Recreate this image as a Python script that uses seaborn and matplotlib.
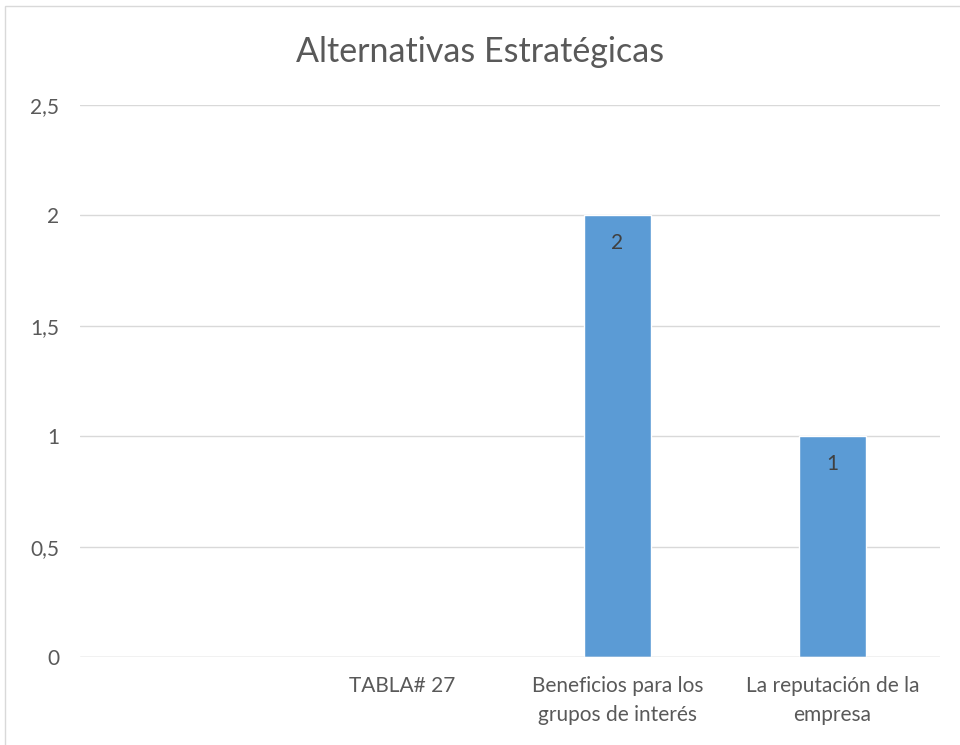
import pandas as pd
import seaborn as sns
import matplotlib.pyplot as plt
from matplotlib.patches import Rectangle

# datos del gráfico
categorias = ["", "TABLA# 27", "Beneficios para los\ngrupos de interés", "La reputación de la\nempresa"]
valores = [0, 0, 2, 1]
titulo = "Alternativas Estratégicas"

df = pd.DataFrame({"categoria": categorias, "valor": valores})

sns.set_style("white")
plt.rcParams["font.family"] = ["Lato", "DejaVu Sans"]

fig = plt.figure(figsize=(9.6, 7.45), dpi=100)
ax = fig.add_axes([80 / 960, 1 - 657 / 745, 860 / 960, 552 / 745])

sns.barplot(data=df, x="categoria", y="valor", color="#5B9BD5", width=0.31,
            saturation=1, ax=ax, zorder=3)

# etiquetas de datos dentro de la barra
for p, v in zip(ax.patches, valores):
    if v > 0:
        ax.text(p.get_x() + p.get_width() / 2, v - 0.125, str(v),
                ha="center", va="center", fontsize=15, color="#404040")

ax.set_ylim(0, 2.5)
ax.set_xlim(-0.5, len(categorias) - 0.5)
ax.set_yticks([0, 0.5, 1, 1.5, 2, 2.5])
ax.set_yticklabels(["0", "0,5", "1", "1,5", "2", "2,5"])
ax.grid(axis="y", color="#D9D9D9", linewidth=1, zorder=0)
ax.set_xlabel("")
ax.set_ylabel("")
for s in ax.spines.values():
    s.set_visible(False)
ax.axhline(0, color="#D9D9D9", linewidth=1, zorder=4)
ax.tick_params(axis="both", length=0, labelsize=15, colors="#595959")
ax.tick_params(axis="y", pad=15)
ax.tick_params(axis="x", pad=14)
for t in ax.get_xticklabels():
    t.set_linespacing(1.55)

fig.text(0.5, 1 - 52 / 745, titulo, ha="center", va="center",
         fontsize=24.5, color="#595959")

# marco del gráfico
fig.patches.append(Rectangle((5 / 960, -0.01), 1.02, 1 - 6 / 745 + 0.01,
                             transform=fig.transFigure, fill=False,
                             edgecolor="#D9D9D9", linewidth=1))

fig.savefig("out.png", dpi=100)
